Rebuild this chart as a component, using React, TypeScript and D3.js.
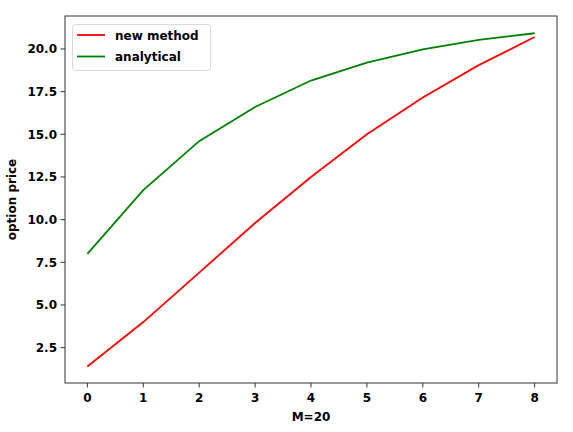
import React from "react";
import * as d3 from "d3";

const xValues = [0, 1, 2, 3, 4, 5, 6, 7, 8];
const newMethod = [1.4, 4.0, 6.9, 9.8, 12.5, 15.0, 17.15, 19.05, 20.7];
const analytical = [8.0, 11.73, 14.6, 16.6, 18.15, 19.2, 19.98, 20.53, 20.92];
const xTicks = [0, 1, 2, 3, 4, 5, 6, 7, 8];
const yTicks = [2.5, 5.0, 7.5, 10.0, 12.5, 15.0, 17.5, 20.0];
const seriesNames = ["new method", "analytical"];
const seriesColors = ["#ff0000", "#008000"];

const W = 573;
const H = 432;
const left = 65, right = 557, top = 16, bottom = 383;
const FONT = "'DejaVu Sans', sans-serif";

export default function App() {
  const x = d3.scaleLinear().domain([-0.4, 8.4]).range([left, right]);
  const y = d3.scaleLinear().domain([0.43, 21.93]).range([bottom, top]);
  const line = d3
    .line<number>()
    .x((_, i) => x(xValues[i]))
    .y((d) => y(d));
  const series = [newMethod, analytical];

  return (
    <svg
      width={W}
      height={H}
      style={{ position: "absolute", left: 0, top: 0, background: "#fff" }}
      fontFamily={FONT}
    >
      <rect x={0} y={0} width={W} height={H} fill="#fff" />
      {series.map((s, i) => (
        <path
          key={i}
          d={line(s) || ""}
          fill="none"
          stroke={seriesColors[i]}
          strokeWidth={1.8}
        />
      ))}
      <rect
        x={left}
        y={top}
        width={right - left}
        height={bottom - top}
        fill="none"
        stroke="#333"
        strokeWidth={1}
      />
      {xTicks.map((t) => (
        <g key={t}>
          <line x1={x(t)} x2={x(t)} y1={bottom} y2={bottom + 4.5} stroke="#333" />
          <text
            x={x(t)}
            y={bottom + 19}
            textAnchor="middle"
            fontSize={12}
            fontWeight="bold"
            fill="#000"
          >
            {t}
          </text>
        </g>
      ))}
      {yTicks.map((t) => (
        <g key={t}>
          <line x1={left - 4.5} x2={left} y1={y(t)} y2={y(t)} stroke="#333" />
          <text
            x={left - 8}
            y={y(t) + 4.3}
            textAnchor="end"
            fontSize={12}
            fontWeight="bold"
            fill="#000"
          >
            {t.toFixed(1)}
          </text>
        </g>
      ))}
      <text
        x={(left + right) / 2}
        y={421}
        textAnchor="middle"
        fontSize={12}
        fontWeight="bold"
        fill="#000"
      >
        M=20
      </text>
      <text
        transform={`translate(16,${(top + bottom) / 2}) rotate(-90)`}
        textAnchor="middle"
        fontSize={12}
        fontWeight="bold"
        fill="#000"
      >
        option price
      </text>
      <g>
        <rect
          x={72.5}
          y={24.5}
          width={138}
          height={46}
          rx={3}
          fill="#fff"
          fillOpacity={0.8}
          stroke="#d9d9d9"
        />
        {seriesNames.map((n, i) => (
          <g key={n}>
            <line
              x1={77}
              x2={105}
              y1={35 + i * 21.5}
              y2={35 + i * 21.5}
              stroke={seriesColors[i]}
              strokeWidth={1.8}
            />
            <text
              x={115}
              y={39.5 + i * 21.5}
              fontSize={12}
              fontWeight="bold"
              fill="#000"
            >
              {n}
            </text>
          </g>
        ))}
      </g>
    </svg>
  );
}
